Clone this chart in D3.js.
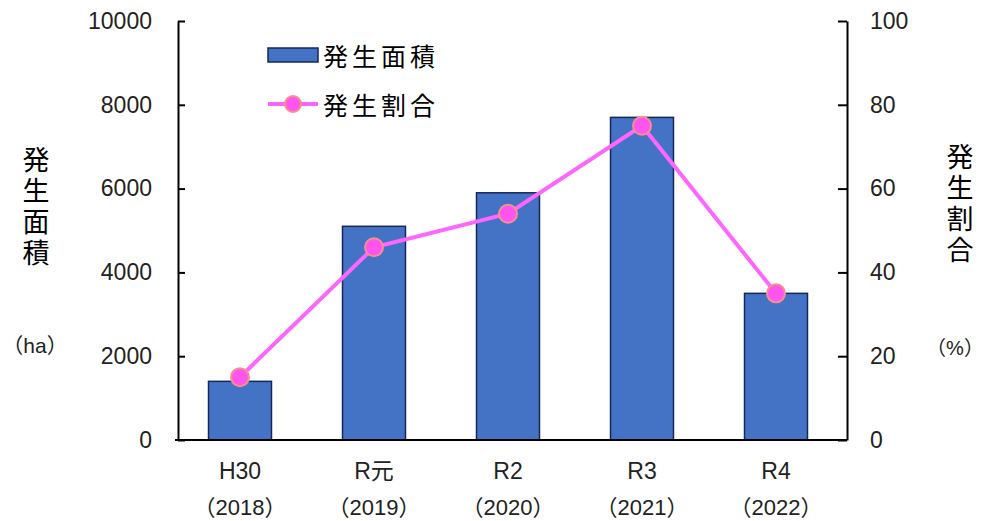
<!DOCTYPE html>
<html>
<head>
<meta charset="utf-8">
<script src="https://cdn.jsdelivr.net/npm/d3@7"></script>
<style>
  html, body { margin: 0; padding: 0; background: #fff; }
  svg { display: block; }
  text { font-family: "Liberation Sans", Arial, sans-serif; fill: #222; }
  .jp { font-family: "Noto Sans CJK JP", sans-serif; fill: #000; }
  .mix { font-family: "Liberation Sans", "Noto Sans CJK JP", sans-serif; fill: #222; }
  .vert { writing-mode: vertical-rl; text-orientation: upright; }
</style>
</head>
<body>
<svg id="chart" width="987" height="521"></svg>
<script>
// Categories (Japanese era year + western year)
const eraLabels = ["H30", "R元", "R2", "R3", "R4"];
const yearLabels = ["（2018）", "（2019）", "（2020）", "（2021）", "（2022）"];
// Outbreak area (ha) and outbreak ratio (%)
const areaValues = [1400, 5100, 5900, 7700, 3500];
const ratioValues = [15, 46, 54, 75, 35];
// Axis ticks
const leftTicks = [0, 2000, 4000, 6000, 8000, 10000];
const rightTicks = [0, 20, 40, 60, 80, 100];

const svg = d3.select("#chart");
const plot = { left: 178, right: 847, top: 21, bottom: 440 };

const x = d3.scaleBand()
  .domain(eraLabels)
  .range([173, 843])
  .paddingInner(0.53)
  .paddingOuter(0.265);
const yL = d3.scaleLinear().domain([0, 10000]).range([plot.bottom, plot.top]);
const yR = d3.scaleLinear().domain([0, 100]).range([plot.bottom, plot.top]);

// Bars
svg.append("g").selectAll("rect")
  .data(areaValues)
  .join("rect")
  .attr("x", (d, i) => x(eraLabels[i]))
  .attr("y", d => yL(d))
  .attr("width", x.bandwidth())
  .attr("height", d => yL(0) - yL(d))
  .attr("fill", "#4472C4")
  .attr("stroke", "#16285a")
  .attr("stroke-width", 1.5);

// Left axis (ticks pointing inward)
const axL = svg.append("g")
  .attr("transform", `translate(${plot.left},0)`)
  .call(d3.axisLeft(yL).tickValues(leftTicks).tickSizeInner(-7).tickSizeOuter(0).tickPadding(26).tickFormat(d3.format("d")));
axL.select(".domain").attr("stroke", "#000").attr("stroke-width", 2);
axL.selectAll(".tick line").attr("stroke", "#000").attr("stroke-width", 2);
axL.selectAll(".tick text").attr("font-size", 23).attr("font-family", "Liberation Sans, Arial, sans-serif").attr("fill", "#222");

// Right axis (ticks pointing inward)
const axR = svg.append("g")
  .attr("transform", `translate(${plot.right},0)`)
  .call(d3.axisRight(yR).tickValues(rightTicks).tickSizeInner(-9).tickSizeOuter(0).tickPadding(23).tickFormat(d3.format("d")));
axR.select(".domain").attr("stroke", "#000").attr("stroke-width", 2);
axR.selectAll(".tick line").attr("stroke", "#000").attr("stroke-width", 2);
axR.selectAll(".tick text").attr("font-size", 23).attr("font-family", "Liberation Sans, Arial, sans-serif").attr("fill", "#222");

// Bottom axis line
const axB = svg.append("g")
  .attr("transform", `translate(0,${plot.bottom})`)
  .call(d3.axisBottom(x).tickSize(0).tickFormat(() => ""));
axB.select(".domain").attr("stroke", "#000").attr("stroke-width", 2)
  .attr("d", `M${plot.left - 3},0H${plot.right}`);

// Category labels (two lines)
const cat = svg.append("g").selectAll("g")
  .data(eraLabels)
  .join("g")
  .attr("transform", d => `translate(${x(d) + x.bandwidth() / 2},0)`);
cat.append("text")
  .attr("class", "mix")
  .attr("y", 479)
  .attr("text-anchor", "middle")
  .attr("font-size", 23)
  .text(d => d);
cat.append("text")
  .attr("class", "mix")
  .attr("y", 515)
  .attr("text-anchor", "middle")
  .attr("font-size", 22)
  .text((d, i) => yearLabels[i]);

// Ratio line with markers
const cx = (d, i) => x(eraLabels[i]) + x.bandwidth() / 2;
const line = d3.line().x(cx).y(d => yR(d));
svg.append("path")
  .datum(ratioValues)
  .attr("d", line)
  .attr("fill", "none")
  .attr("stroke", "#FF66FF")
  .attr("stroke-width", 4);
svg.append("g").selectAll("circle")
  .data(ratioValues)
  .join("circle")
  .attr("cx", cx)
  .attr("cy", d => yR(d))
  .attr("r", 9)
  .attr("fill", "#FF55EE")
  .attr("stroke", "#F59090")
  .attr("stroke-width", 2);

// Legend
const legend = svg.append("g");
legend.append("rect")
  .attr("x", 268).attr("y", 48).attr("width", 50).attr("height", 14)
  .attr("fill", "#4472C4").attr("stroke", "#16285a").attr("stroke-width", 1.5);
legend.append("text").attr("class", "jp")
  .attr("x", 323).attr("y", 66).attr("font-size", 25)
  .attr("letter-spacing", 4).text("発生面積");
legend.append("line")
  .attr("x1", 268).attr("x2", 318).attr("y1", 104).attr("y2", 104)
  .attr("stroke", "#FF66FF").attr("stroke-width", 4);
legend.append("circle")
  .attr("cx", 293).attr("cy", 104).attr("r", 8)
  .attr("fill", "#FF55EE").attr("stroke", "#F59090").attr("stroke-width", 2);
legend.append("text").attr("class", "jp")
  .attr("x", 323).attr("y", 115).attr("font-size", 25)
  .attr("letter-spacing", 4).text("発生割合");

// Axis titles (vertical)
svg.append("text").attr("class", "jp vert")
  .attr("x", 36).attr("y", 146)
  .attr("font-size", 27).attr("letter-spacing", 4)
  .text("発生面積");
svg.append("text").attr("class", "mix")
  .attr("x", 35).attr("y", 353).attr("text-anchor", "middle")
  .attr("font-size", 21).text("（ha）");

svg.append("text").attr("class", "jp vert")
  .attr("x", 960).attr("y", 143)
  .attr("font-size", 27).attr("letter-spacing", 4)
  .text("発生割合");
svg.append("text").attr("class", "mix")
  .attr("x", 955).attr("y", 355).attr("text-anchor", "middle")
  .attr("font-size", 20).text("（%）");
</script>
</body>
</html>
